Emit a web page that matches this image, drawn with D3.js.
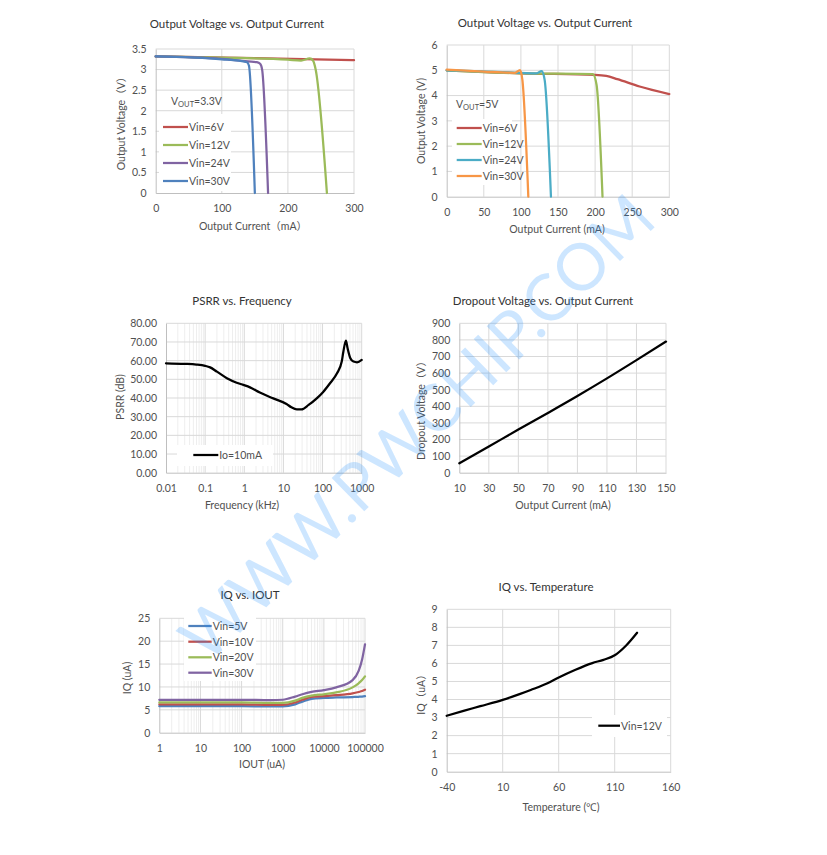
<!DOCTYPE html>
<html><head><meta charset="utf-8">
<script src="https://cdn.jsdelivr.net/npm/d3@7"></script>
<style>
body{margin:0;background:#fff}
svg{display:block}
text{font-family:Lato,"Noto Sans","Noto Sans CJK SC",sans-serif;font-weight:400}
</style>
</head><body>
<svg id="c" width="827" height="855"></svg>
<script>
// ---------------- DATA ----------------
// Chart 1: Output Voltage vs Output Current, VOUT=3.3V  [mA, V]
const ov33Vin6  = [[0,3.32],[150,3.28],[300,3.23]];
const ov33Vin12 = [[0,3.32],[100,3.29],[200,3.24],[220,3.22],[233,3.27],[238,3.22],[242,3.0],[259,0]];
const ov33Vin24 = [[0,3.32],[100,3.26],[140,3.2],[153,3.18],[158,3.14],[161,3.0],[170,0]];
const ov33Vin30 = [[0,3.32],[100,3.25],[138,3.18],[141,3.1],[150,0]];
const ov33XTicks = [0,100,200,300];
const ov33YTicks = [0,0.5,1,1.5,2,2.5,3,3.5];

// Chart 2: Output Voltage vs Output Current, VOUT=5V  [mA, V]
const ov5Vin6  = [[0,5.0],[100,4.88],[200,4.82],[215,4.78],[230,4.65],[260,4.36],[300,4.06]];
const ov5Vin12 = [[0,5.0],[100,4.88],[197,4.85],[202,4.42],[210,0]];
const ov5Vin24 = [[0,5.0],[100,4.9],[121,4.88],[128,4.97],[132,4.62],[140.5,0]];
const ov5Vin30 = [[0,5.03],[50,4.95],[92,4.9],[98.8,5.01],[102,4.62],[110,0]];
const ov5XTicks = [0,50,100,150,200,250,300];
const ov5YTicks = [0,1,2,3,4,5,6];

// Chart 3: PSRR vs Frequency  [kHz, dB]
const psrrIo10 = [[0.01,58.6],[0.03,58.3],[0.06,57.9],[0.1,57.2],[0.134,56.4],[0.2,54.1],[0.36,50.6],[0.64,48.2],[0.95,47.0],[1.4,45.7],[2.5,42.9],[5.5,39.8],[12,36.8],[16,35.0],[22,33.9],[29,33.9],[44,36.3],[71,39.8],[105,43.4],[155,47.9],[234,53.2],[309,59.5],[340,64.8],[395,70.7],[436,66.6],[513,61.3],[615,59.5],[760,59.1],[1000,60.4]];
const psrrXTicks = [0.01,0.1,1,10,100,1000];
const psrrYTicks = [0,10,20,30,40,50,60,70,80];

// Chart 4: Dropout Voltage vs Output Current  [mA, mV]
const dropout = [[10,57],[30,158],[50,260],[70,360],[90,462],[110,568],[130,678],[150,790]];
const dropXTicks = [10,30,50,70,90,110,130,150];
const dropYTicks = [0,100,200,300,400,500,600,700,800,900];

// Chart 5: IQ vs IOUT  [uA, uA]
const iqIout = [1,10,100,500,1000,2000,3000,5000,10000,20000,50000,70000,85000,100000];
const iqVin5  = [5.8,5.8,5.8,5.75,5.75,6.2,6.8,7.4,7.6,7.7,7.8,7.85,7.9,8.0];
const iqVin10 = [6.2,6.2,6.2,6.1,6.1,6.6,7.2,7.8,8.0,8.2,8.6,8.9,9.1,9.4];
const iqVin20 = [6.6,6.6,6.6,6.5,6.5,7.0,7.6,8.1,8.4,8.8,9.9,10.8,11.5,12.3];
const iqVin30 = [7.2,7.2,7.2,7.1,7.2,7.9,8.4,8.9,9.3,9.9,11.5,13.5,16.0,19.3];
const iqXTicks = [1,10,100,1000,10000,100000];
const iqYTicks = [0,5,10,15,20,25];

// Chart 6: IQ vs Temperature  [°C, uA]
const tempC  = [-40,-25,-10,10,25,35,50,60,75,90,100,110,120,130];
const iqTemp = [3.1,3.37,3.63,3.98,4.3,4.53,4.9,5.22,5.65,6.02,6.2,6.45,6.98,7.7];
const tempXTicks = [-40,10,60,110,160];
const tempYTicks = [0,1,2,3,4,5,6,7,8,9];

// ---------------- DRAW ----------------
const C = {red:"#c0504d", green:"#9bbb59", purple:"#8064a2", blue:"#4f81bd", aqua:"#4bacc6", orange:"#f79646", black:"#000"};
const TXT = "#505050", TITLE = "#333333";
const svg = d3.select("#c");
svg.append("rect").attr("width",827).attr("height",855).attr("fill","#fff");

function drawChart(o){
  const g = svg.append("g");
  const x = (o.xLog ? d3.scaleLog() : d3.scaleLinear()).domain(o.xDomain).range([o.x0,o.x1]);
  const y = d3.scaleLinear().domain(o.yDomain).range([o.y1,o.y0]);
  if(o.xLog){
    const minors=[];
    for(let d=o.xDomain[0]; d<o.xDomain[1]*0.99; d*=10) for(let k=2;k<10;k++) minors.push(d*k);
    g.selectAll(null).data(minors).join("line")
      .attr("x1",d=>x(d)).attr("x2",d=>x(d)).attr("y1",o.y0).attr("y2",o.y1)
      .attr("stroke","#eeeeee").attr("stroke-width",1);
  }
  g.selectAll(null).data(o.xTicks.slice(1)).join("line")
    .attr("x1",d=>x(d)).attr("x2",d=>x(d)).attr("y1",o.y0).attr("y2",o.y1)
    .attr("stroke","#d9d9d9").attr("stroke-width",1);
  g.selectAll(null).data(o.yTicks.slice(1)).join("line")
    .attr("x1",o.x0).attr("x2",o.x1).attr("y1",d=>y(d)).attr("y2",d=>y(d))
    .attr("stroke","#d9d9d9").attr("stroke-width",1);

  const ax = g.append("g").attr("transform",`translate(0,${o.y1})`)
    .call(d3.axisBottom(x).tickValues(o.xTicks).tickFormat(o.xFmt||(d=>String(d))).tickSize(0).tickPadding(12));
  const ay = g.append("g").attr("transform",`translate(${o.x0},0)`)
    .call(d3.axisLeft(y).tickValues(o.yTicks).tickFormat(o.yFmt||(d=>String(d))).tickSize(0).tickPadding(9));
  [ax,ay].forEach(a=>{
    a.select(".domain").attr("stroke","#bfbfbf");
    a.selectAll("text").attr("font-size",10.5).attr("fill",TXT).attr("font-family","Lato,'Noto Sans',sans-serif");
  });

  if(o.legendBox){
    const b=o.legendBox;
    g.append("rect").attr("x",b[0]).attr("y",b[1]).attr("width",b[2]).attr("height",b[3]).attr("fill","#fff");
  }

  const line = d3.line().x(d=>x(d[0])).y(d=>y(d[1])).curve(d3.curveMonotoneX);
  o.series.forEach(s=>{
    g.append("path").datum(s.data).attr("d",line).attr("fill","none")
      .attr("stroke",s.color).attr("stroke-width",s.width||2.25).attr("stroke-linejoin","round").attr("stroke-linecap","round");
  });

  if(o.legend){
    o.legend.items.forEach((it,i)=>{
      const ly = o.legend.ys[i];
      g.append("line").attr("x1",o.legend.lx0).attr("x2",o.legend.lx1).attr("y1",ly).attr("y2",ly)
        .attr("stroke",it.color).attr("stroke-width",2.25);
      g.append("text").attr("x",o.legend.lx1+1).attr("y",ly+3.8).attr("font-size",10.5).attr("fill",TXT).text(it.label);
    });
  }

  g.append("text").attr("x",o.title[1]).attr("y",o.title[2]).attr("text-anchor","middle")
    .attr("font-size",11.5).attr("fill",TITLE).text(o.title[0]);
  g.append("text").attr("x",o.xTitle[1]).attr("y",o.xTitle[2]).attr("text-anchor","middle")
    .attr("font-size",10.5).attr("fill",TXT).text(o.xTitle[0]);
  g.append("text").attr("transform",`translate(${o.yTitle[1]},${o.yTitle[2]}) rotate(-90)`).attr("text-anchor","middle")
    .attr("font-size",10.5).attr("fill",TXT).text(o.yTitle[0]);

  if(o.vout){
    const t = g.append("text").attr("x",o.vout[1]).attr("y",o.vout[2]).attr("font-size",10.5).attr("fill",TXT);
    t.append("tspan").text("V");
    t.append("tspan").attr("font-size",7.5).attr("dy",2).text("OUT");
    t.append("tspan").attr("dy",-2).text("="+o.vout[0]);
  }
  return g;
}

// Chart 1
drawChart({
  x0:155.7,x1:354,y0:49,y1:193, xDomain:[0,300], yDomain:[0,3.5],
  xTicks:ov33XTicks, yTicks:ov33YTicks,
  title:["Output Voltage vs. Output Current",237,28],
  xTitle:["Output Current（mA）",253,230],
  yTitle:["Output Voltage（V）",125,121],
  vout:["3.3V",171,105],
  legendBox:[159,114,72,77],
  series:[
    {data:ov33Vin6,color:C.red},{data:ov33Vin12,color:C.green},
    {data:ov33Vin24,color:C.purple},{data:ov33Vin30,color:C.blue}],
  legend:{lx0:163,lx1:188,ys:[127,145,163,181],items:[
    {label:"Vin=6V",color:C.red},{label:"Vin=12V",color:C.green},
    {label:"Vin=24V",color:C.purple},{label:"Vin=30V",color:C.blue}]}
});

// Chart 2
drawChart({
  x0:446.7,x1:669.3,y0:45,y1:196.7, xDomain:[0,300], yDomain:[0,6],
  xTicks:ov5XTicks, yTicks:ov5YTicks,
  title:["Output Voltage vs. Output Current",545,27],
  xTitle:["Output Current (mA)",557,233],
  yTitle:["Output Voltage (V)",425,121],
  vout:["5V",456,108],
  legendBox:[452,119,60,66],
  series:[
    {data:ov5Vin6,color:C.red},{data:ov5Vin12,color:C.green},
    {data:ov5Vin24,color:C.aqua},{data:ov5Vin30,color:C.orange}],
  legend:{lx0:456.7,lx1:481.7,ys:[128,144,160,176],items:[
    {label:"Vin=6V",color:C.red},{label:"Vin=12V",color:C.green},
    {label:"Vin=24V",color:C.aqua},{label:"Vin=30V",color:C.orange}]}
});

// Chart 3
drawChart({
  x0:166,x1:361.7,y0:323.3,y1:472.7, xLog:true, xDomain:[0.01,1000], yDomain:[0,80],
  xTicks:psrrXTicks, yTicks:psrrYTicks, yFmt:d3.format(".2f"),
  title:["PSRR vs. Frequency",242,305],
  xTitle:["Frequency (kHz)",242,509],
  yTitle:["PSRR (dB)",124,397],
  legendBox:[177,445,96,21],
  series:[{data:psrrIo10,color:C.black}],
  legend:{lx0:193.3,lx1:218.3,ys:[455],items:[{label:"Io=10mA",color:C.black}]}
});

// Chart 4
drawChart({
  x0:459.3,x1:666,y0:323.3,y1:472.7, xDomain:[10,150], yDomain:[0,900],
  xTicks:dropXTicks, yTicks:dropYTicks,
  title:["Dropout Voltage vs. Output Current",543,305],
  xTitle:["Output Current (mA)",563,509],
  yTitle:["Dropout Voltage（V）",425,408],
  series:[{data:dropout,color:C.black}]
});

// Chart 5
drawChart({
  x0:159.3,x1:365,y0:618.3,y1:732.7, xLog:true, xDomain:[1,100000], yDomain:[0,25],
  xTicks:iqXTicks, yTicks:iqYTicks,
  title:["IQ vs. IOUT",250,599],
  xTitle:["IOUT (uA)",262,768],
  yTitle:["IQ (uA)",131,678],
  legendBox:[184,617,72,64],
  series:[
    {data:iqIout.map((v,i)=>[v,iqVin5[i]]),color:C.blue},
    {data:iqIout.map((v,i)=>[v,iqVin10[i]]),color:C.red},
    {data:iqIout.map((v,i)=>[v,iqVin20[i]]),color:C.green},
    {data:iqIout.map((v,i)=>[v,iqVin30[i]]),color:C.purple}],
  legend:{lx0:188.3,lx1:211.7,ys:[626,641.7,657.3,672.7],items:[
    {label:"Vin=5V",color:C.blue},{label:"Vin=10V",color:C.red},
    {label:"Vin=20V",color:C.green},{label:"Vin=30V",color:C.purple}]}
});

// Chart 6
drawChart({
  x0:446.7,x1:670.7,y0:609.3,y1:771.7, xDomain:[-40,160], yDomain:[0,9],
  xTicks:tempXTicks, yTicks:tempYTicks,
  title:["IQ vs. Temperature",546,591],
  xTitle:["Temperature (℃)",561,811],
  yTitle:["IQ（uA）",425,692],
  legendBox:[592,715,75,22],
  series:[{data:tempC.map((v,i)=>[v,iqTemp[i]]),color:C.black}],
  legend:{lx0:598.3,lx1:620,ys:[725.7],items:[{label:"Vin=12V",color:C.black}]}
});

// Watermark
svg.append("text")
  .attr("transform","translate(433,444) rotate(-44.4)")
  .attr("text-anchor","middle")
  .attr("font-family","'Liberation Sans',Arial,sans-serif")
  .attr("font-weight","bold")
  .attr("font-size",65)
  .attr("fill","#1a8cff").attr("fill-opacity",0.22)
  .text("WWW.PWCHIP.COM");
</script>
</body></html>
